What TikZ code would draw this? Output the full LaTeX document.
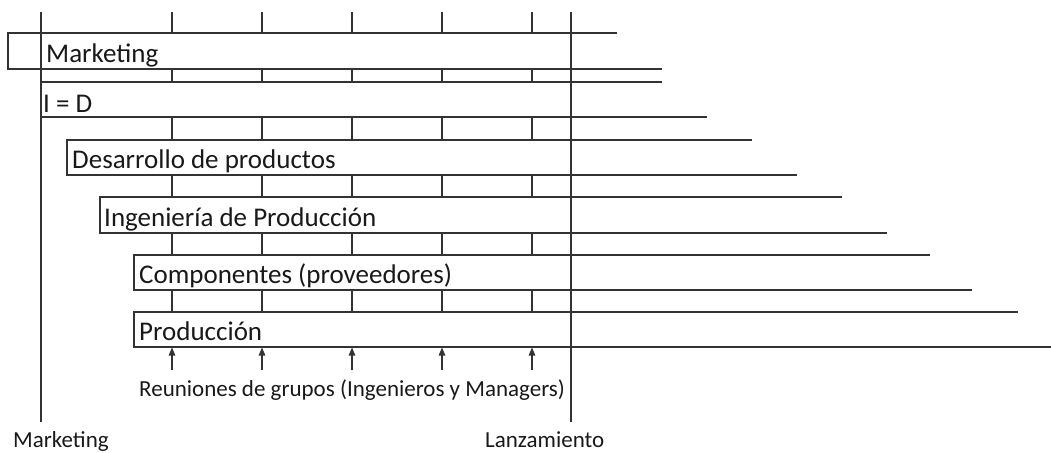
\documentclass[tikz,border=0pt]{standalone}
\usepackage{fontspec}
\setmainfont{Carlito}
\usetikzlibrary{arrows.meta}
\begin{document}
\begin{tikzpicture}[x=1pt,y=-1pt,
  ln/.style={line width=1.2pt, draw=black!80},
  lab/.style={anchor=base west, inner sep=0pt, text=black!90, font=\fontsize{27}{32}\selectfont},
  small/.style={anchor=base west, inner sep=0pt, text=black!90, font=\fontsize{23}{27}\selectfont},
  arr/.style={ln, -{Triangle[length=8pt,width=6.5pt]}}]
\useasboundingbox (0,0) rectangle (1051,452);
% long vertical lines
\coordinate (mtop) at (41,12);
\coordinate (mbot) at (41,422);
\coordinate (ltop) at (571,12);
\coordinate (lbot) at (571,422);
\draw[ln] (mtop) -- (mbot);
\draw[ln] (ltop) -- (lbot);
% rows
\draw[ln] (617,33) -- (8,33) -- (8,69) -- (662,69);
\draw[ln] (662,82) -- (41,82);
\draw[ln] (41,117) -- (707,117);
\draw[ln] (752,140) -- (67,140) -- (67,175) -- (797,175);
\draw[ln] (842,197) -- (100,197) -- (100,233) -- (887,233);
\draw[ln] (930,255) -- (134,255) -- (134,290) -- (972,290);
\draw[ln] (1018,312) -- (134,312) -- (134,347) -- (1051,347);
% ticks between rows and meeting arrows
\foreach \x in {172,262,352,442,532}{
  \draw[ln] (\x,12) -- (\x,33);
  \draw[ln] (\x,69) -- (\x,82);
  \draw[ln] (\x,117) -- (\x,140);
  \draw[ln] (\x,175) -- (\x,197);
  \draw[ln] (\x,233) -- (\x,255);
  \draw[ln] (\x,290) -- (\x,312);
  \coordinate (a\x) at (\x,370);
  \coordinate (b\x) at (\x,347.5);
  \draw[arr] (a\x) -- (b\x);
}
% labels
\node[lab] (tmk) at (46,63) {Marketing};
\node[lab] (tid) at (43,112) {I = D};
\node[lab] (tdp) at (72,168) {Desarrollo de productos};
\node[lab] (tip) at (104,226) {Ingeniería de Producción};
\node[lab] (tcp) at (139,283) {Componentes (proveedores)};
\node[lab] (tpr) at (139,340) {Producción};
\node[small] (treu) at (139,396) {Reuniones de grupos (Ingenieros y Managers)};
\node[small] (bmk) at (13,447) {Marketing};
\node[small] (blz) at (485,447) {Lanzamiento};
\end{tikzpicture}
\end{document}
